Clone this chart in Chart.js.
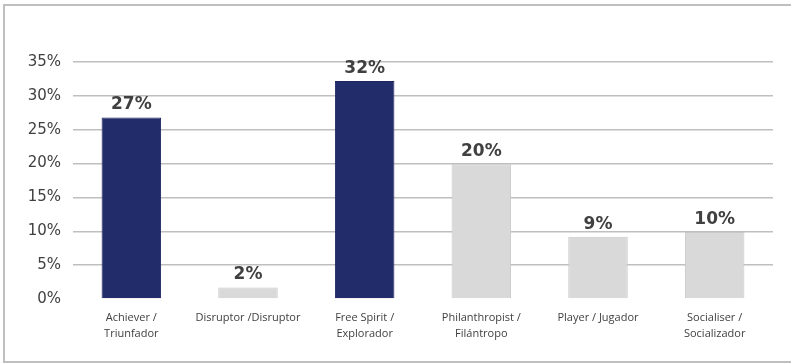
<!DOCTYPE html>
<html>
<head>
<meta charset="utf-8">
<script src="https://cdn.jsdelivr.net/npm/chart.js@4"></script>
<style>
  html, body { margin: 0; padding: 0; background: #fff; }
  #wrap { width: 791px; height: 364px; position: relative; }
</style>
</head>
<body>
<div id="wrap"><canvas id="chart" width="791" height="364"></canvas></div>
<script>
const categories = [
  ['Achiever /', 'Triunfador'],
  'Disruptor /Disruptor',
  ['Free Spirit /', 'Explorador'],
  ['Philanthropist /', 'Filántropo'],
  'Player / Jugador',
  ['Socialiser /', 'Socializador']
];
const shares = [26.8, 1.7, 32.2, 19.9, 9.2, 9.9];
const shareLabels = ['27%', '2%', '32%', '20%', '9%', '10%'];
const yTicks = [0, 5, 10, 15, 20, 25, 30, 35];

const navy = '#232c6a';
const grey = '#d9d9d9';
const barColors = shares.map((v, i) => (i === 0 || i === 2) ? navy : grey);
const barBorders = shares.map((v, i) => (i === 0 || i === 2) ? '#1e2660' : '#c8c8c8');

// outer frame like the pasted picture
const framePlugin = {
  id: 'frame',
  beforeDraw(chart) {
    const c = chart.ctx;
    c.save();
    c.strokeStyle = '#bfbfbf';
    c.lineWidth = 2;
    c.strokeRect(4, 5, 800, 357);
    c.restore();
  }
};

// value labels above bars
const valueLabels = {
  id: 'valueLabels',
  afterDatasetsDraw(chart) {
    const c = chart.ctx;
    const meta = chart.getDatasetMeta(0);
    c.save();
    c.font = 'bold 17px "DejaVu Sans"';
    c.fillStyle = '#404040';
    c.textAlign = 'center';
    c.textBaseline = 'bottom';
    meta.data.forEach((bar, i) => {
      c.fillText(shareLabels[i], bar.x, bar.y - 4);
    });
    c.restore();
  }
};

new Chart(document.getElementById('chart'), {
  type: 'bar',
  data: {
    labels: categories,
    datasets: [{
      data: shares,
      backgroundColor: barColors,
      borderColor: barBorders,
      borderWidth: 1,
      barPercentage: 0.51,
      categoryPercentage: 1
    }]
  },
  options: {
    responsive: false,
    animation: false,
    events: [],
    layout: { padding: { top: 62, right: 18, left: 0, bottom: 0 } },
    plugins: { legend: { display: false }, tooltip: { enabled: false } },
    scales: {
      x: {
        grid: { display: false, drawTicks: false },
        border: { display: false },
        afterFit(scale) { scale.height = 65; },
        ticks: {
          maxRotation: 0,
          autoSkip: false,
          padding: 11,
          color: '#404040',
          font: { family: 'Open Sans', size: 11, lineHeight: 1.45 }
        }
      },
      y: {
        min: 0,
        max: 35,
        afterFit(scale) { scale.width = 73; },
        afterBuildTicks(scale) { scale.ticks = yTicks.map(v => ({ value: v })); },
        grid: {
          drawTicks: false,
          color: ctx => ctx.tick && ctx.tick.value === 0 ? 'rgba(0,0,0,0)' : '#bfbfbf',
          lineWidth: 1.5
        },
        border: { display: false },
        ticks: {
          padding: 12,
          color: '#404040',
          font: { family: 'DejaVu Sans', size: 15 },
          callback: v => v + '%'
        }
      }
    }
  },
  plugins: [framePlugin, valueLabels]
});
</script>
</body>
</html>
